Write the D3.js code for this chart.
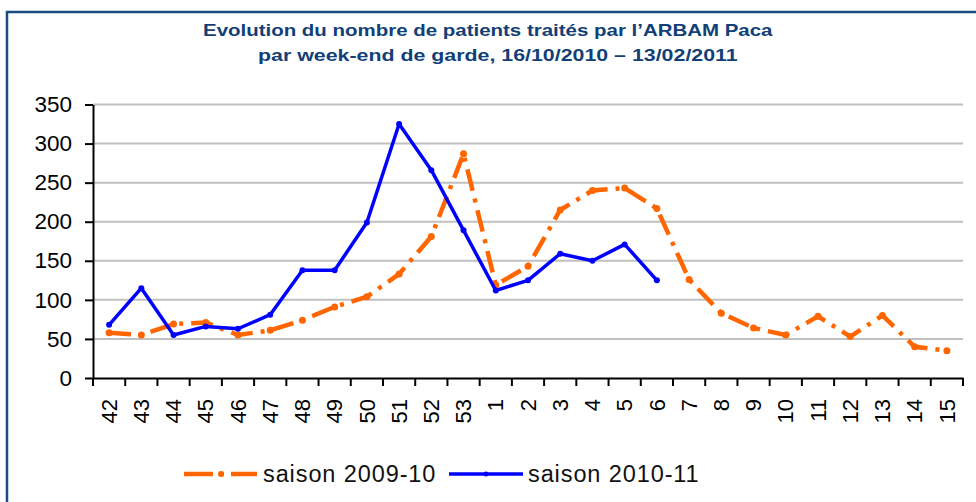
<!DOCTYPE html>
<html>
<head>
<meta charset="utf-8">
<script src="https://cdn.jsdelivr.net/npm/d3@7"></script>
<style>
  body { margin: 0; background: #fff; }
  svg { display: block; font-family: "Liberation Sans", Arial, sans-serif; }
</style>
</head>
<body>
<svg id="chart" width="976" height="502"></svg>
<script>
// week numbers (x categories)
const weeks = ["42","43","44","45","46","47","48","49","50","51","52","53",
  "1","2","3","4","5","6","7","8","9","10","11","12","13","14","15"];
// patients per on-call weekend
const season0910 = [58, 55, 69, 71, 55, 61, 74, 91, 104, 133, 181, 287,
  119, 143, 215, 240, 243, 217, 126, 83, 64, 55, 79, 53, 80, 40, 35];
const season1011 = [68, 115, 55, 66, 63, 81, 138, 138, 199, 325, 266, 189,
  112, 125, 159, 150, 171, 125, null, null, null, null, null, null, null, null, null];
const yTicks = [0, 50, 100, 150, 200, 250, 300, 350];
const seriesNames = ["saison 2009-10", "saison 2010-11"];
const titleLines = ["Evolution du nombre de patients traités par l’ARBAM Paca",
  "par week-end de garde, 16/10/2010 – 13/02/2011"];

const svg = d3.select("#chart");
const margin = { left: 93, right: 963, top: 104.5, bottom: 378 };

// frame
svg.append("rect")
  .attr("x", 7).attr("y", 12)
  .attr("width", 1000).attr("height", 600)
  .attr("fill", "none")
  .attr("stroke", "#1d4a80")
  .attr("stroke-width", 2.5);

// title, glyphs stretched horizontally like the original
const titleBoxes = [{ x: 203, y: 36.5, w: 570 }, { x: 258, y: 61, w: 480 }];
titleLines.forEach((t, i) => {
  const b = titleBoxes[i];
  const el = svg.append("text")
    .attr("fill", "#123f78")
    .attr("font-weight", "bold")
    .attr("font-size", 16.5)
    .attr("y", b.y)
    .text(t);
  const w = el.node().getComputedTextLength();
  el.attr("transform", "translate(" + b.x + ",0) scale(" + (b.w / w) + ",1)");
});

const x = d3.scaleBand().domain(weeks).range([margin.left, margin.right]).padding(0);
const y = d3.scaleLinear().domain([0, 350]).range([margin.bottom, margin.top]);

// gridlines
svg.append("g")
  .selectAll("line")
  .data(yTicks.filter(d => d > 0))
  .enter().append("line")
  .attr("x1", margin.left).attr("x2", margin.right)
  .attr("y1", d => y(d)).attr("y2", d => y(d))
  .attr("stroke", "#c0c0c0")
  .attr("stroke-width", 2);

// y axis
const yAxis = svg.append("g")
  .attr("transform", "translate(" + margin.left + ",0)")
  .call(d3.axisLeft(y).tickValues(yTicks).tickSize(8).tickPadding(13).tickSizeOuter(0));
yAxis.select(".domain").attr("stroke", "#000").attr("stroke-width", 2);
yAxis.selectAll(".tick line").attr("stroke", "#000").attr("stroke-width", 2);
yAxis.selectAll(".tick text")
  .attr("font-size", 22.5)
  .attr("fill", "#000")
  .attr("font-family", "Liberation Sans, Arial, sans-serif");

// x axis: labels at band centres, ticks on band boundaries
const xAxis = svg.append("g")
  .attr("transform", "translate(0," + margin.bottom + ")")
  .call(d3.axisBottom(x).tickSize(0).tickSizeOuter(0));
xAxis.select(".domain").attr("stroke", "#000").attr("stroke-width", 2);
xAxis.selectAll(".tick text")
  .attr("font-size", 22)
  .attr("fill", "#000")
  .attr("font-family", "Liberation Sans, Arial, sans-serif")
  .attr("text-anchor", "end")
  .attr("transform", "translate(0,21) rotate(-90)")
  .attr("x", 0).attr("y", 0).attr("dy", "0.35em");
xAxis.append("g")
  .selectAll("line")
  .data(weeks.map(d => x(d)).concat([margin.right]))
  .enter().append("line")
  .attr("x1", d => d).attr("x2", d => d)
  .attr("y1", 0).attr("y2", 8)
  .attr("stroke", "#000").attr("stroke-width", 2);

const cx = d => x(d) + x.bandwidth() / 2;

const line0910 = d3.line()
  .x((d, i) => cx(weeks[i]))
  .y(d => y(d));
const line1011 = d3.line()
  .defined(d => d !== null)
  .x((d, i) => cx(weeks[i]))
  .y(d => y(d));

svg.append("path")
  .datum(season0910)
  .attr("d", line0910)
  .attr("fill", "none")
  .attr("stroke", "#ff6600")
  .attr("stroke-width", 4.5)
  .attr("stroke-dasharray", "22,8,4,8");
svg.append("g")
  .selectAll("circle")
  .data(season0910)
  .enter().append("circle")
  .attr("cx", (d, i) => cx(weeks[i]))
  .attr("cy", d => y(d))
  .attr("r", 3.5)
  .attr("fill", "#ff6600");

svg.append("path")
  .datum(season1011)
  .attr("d", line1011)
  .attr("fill", "none")
  .attr("stroke", "#0000ff")
  .attr("stroke-width", 3.5)
  .attr("stroke-linejoin", "round");
svg.append("g")
  .selectAll("circle")
  .data(season1011.filter(d => d !== null))
  .enter().append("circle")
  .attr("cx", (d, i) => cx(weeks[i]))
  .attr("cy", d => y(d))
  .attr("r", 3)
  .attr("fill", "#0000ff");

// legend
const legend = svg.append("g").attr("transform", "translate(0,474)");
legend.append("line")
  .attr("x1", 184).attr("x2", 257).attr("y1", 0).attr("y2", 0)
  .attr("stroke", "#ff6600").attr("stroke-width", 4.5)
  .attr("stroke-dasharray", "29,7,4,7");
legend.append("circle").attr("cx", 221).attr("cy", 0).attr("r", 3).attr("fill", "#ff6600");
legend.append("text").attr("x", 263).attr("y", 0).attr("dy", "0.35em")
  .attr("font-size", 23.5).attr("letter-spacing", 0.9)
  .attr("fill", "#111").text(seriesNames[0]);
legend.append("line")
  .attr("x1", 449).attr("x2", 523).attr("y1", 0).attr("y2", 0)
  .attr("stroke", "#0000ff").attr("stroke-width", 3.5);
legend.append("circle").attr("cx", 486).attr("cy", 0).attr("r", 2.5).attr("fill", "#0000ff");
legend.append("text").attr("x", 528).attr("y", 0).attr("dy", "0.35em")
  .attr("font-size", 23.5).attr("letter-spacing", 0.9)
  .attr("fill", "#111").text(seriesNames[1]);
</script>
</body>
</html>
